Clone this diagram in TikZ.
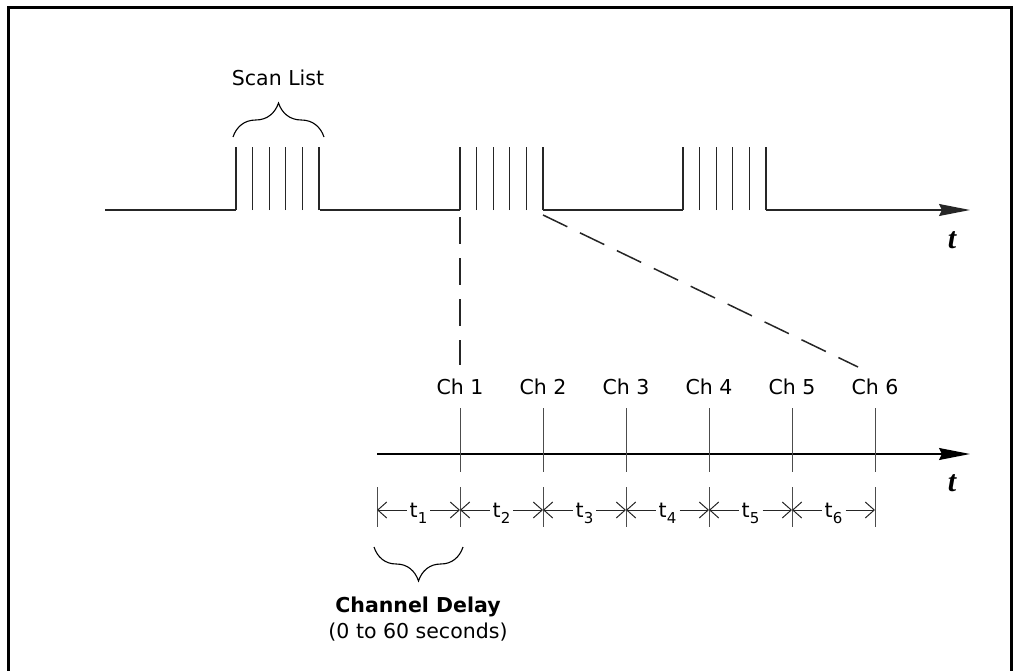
\documentclass[tikz,border=0pt]{standalone}
\usepackage{fontspec}
\setmainfont{DejaVu Sans}
\newfontfamily\tfont{Liberation Serif}
\usetikzlibrary{arrows.meta,decorations.pathreplacing}

\begin{document}
\begin{tikzpicture}[x=1pt, y=-1pt]
        \tikzstyle{lbl} = [font=\fontsize{20.5}{24}\selectfont, inner sep=1pt]
        \tikzstyle{tlbl} = [font=\fontsize{30}{30}\selectfont\tfont\bfseries\itshape, inner sep=0pt]
        \tikzstyle{wave} = [line width=1.1pt, black!85]
        \tikzstyle{chtick} = [line width=1pt, black!70]
        \tikzstyle{taxis} = [line width=1.2pt, -{Stealth[length=31pt, width=12pt, inset=3pt]}]
        \tikzstyle{dimline} = [line width=1pt, black!85, -{Straight Barb[length=9pt, width=16pt]}]
        \tikzstyle{cbrace} = [line width=1.1pt, decorate, decoration={brace, amplitude=34pt}]
        \useasboundingbox (0,0) rectangle (1014,671);
        % frame
        \draw[line width=3.5pt] (8.5,675) -- (8.5,7.5) -- (1011.5,7.5) -- (1011.5,675);
        % scan train
        \coordinate (start) at (105,210);
        \coordinate (b1l) at (236,210);
        \coordinate (b1r) at (320,210);
        \coordinate (b2l) at (460,210);
        \coordinate (b2r) at (543,210);
        \coordinate (b3l) at (683,210);
        \coordinate (b3r) at (766,210);
        \coordinate (tend) at (970,210);
        \draw[wave] (start) -- (b1l) (b1r) -- (b2l) (b2r) -- (b3l);
        \draw[wave, taxis] (b3r) -- (tend);
        \foreach \b in {236,460,683}
          \foreach \k in {0,...,5}
            \draw[wave] ({\b+\k*16.6},210) -- ++(0,-63);
        \node[tlbl] (t1) at (952,240) {t};
        \draw[cbrace] (233,137) -- (324,137);
        \node[lbl] (scan) at (278,78) {Scan List};
        % zoom lines
        \coordinate (dv) at (460,365);
        \coordinate (dd) at (858,367);
        \draw[wave, line width=1.5pt, dash pattern=on 27pt off 14pt] ([yshift=-7pt]b2l) -- (dv);
        \draw[wave, line width=1.5pt, dash pattern=on 27pt off 14pt] ([yshift=-5pt]b2r) -- (dd);
        % channel axis
        \coordinate (ax0) at (377,454);
        \coordinate (axe) at (970,454);
        \draw[taxis] (ax0) -- (axe);
        \node[tlbl] (t2) at (952,483) {t};
        \foreach \i [evaluate=\i as \xx using 377+\i*83] in {1,...,6} {
          \node[lbl] (ch\i) at (\xx,387) {Ch \i};
          \draw[chtick] (\xx,408) -- (\xx,472);
        }
        % delays
        \foreach \i [evaluate=\i as \xx using 377+\i*83] in {0,...,6} {
          \coordinate (k\i) at (\xx,510);
          \draw[chtick] (\xx,487) -- (\xx,527);
        }
        \foreach \i [evaluate=\i as \xm using 377+(\i-0.5)*83, evaluate=\i as \j using int(\i-1)] in {1,...,6} {
          \node[lbl, inner sep=3pt, anchor=base] (d\i) at (\xm,517) {t\raisebox{-6pt}{\fontsize{15}{15}\selectfont\i}};
          \draw[dimline] (d\i.west |- k\j) -- (k\j);
          \draw[dimline] (d\i.east |- k\i) -- (k\i);
        }
        \draw[cbrace, decoration={mirror}] (374,547) -- (463,547);
        \node[lbl, font=\fontsize{20.5}{24}\selectfont\bfseries] (cd) at (418,607) {Channel Delay};
        \node[lbl] (sec) at (418,632) {(0 to 60 seconds)};
      \end{tikzpicture}
\end{document}
